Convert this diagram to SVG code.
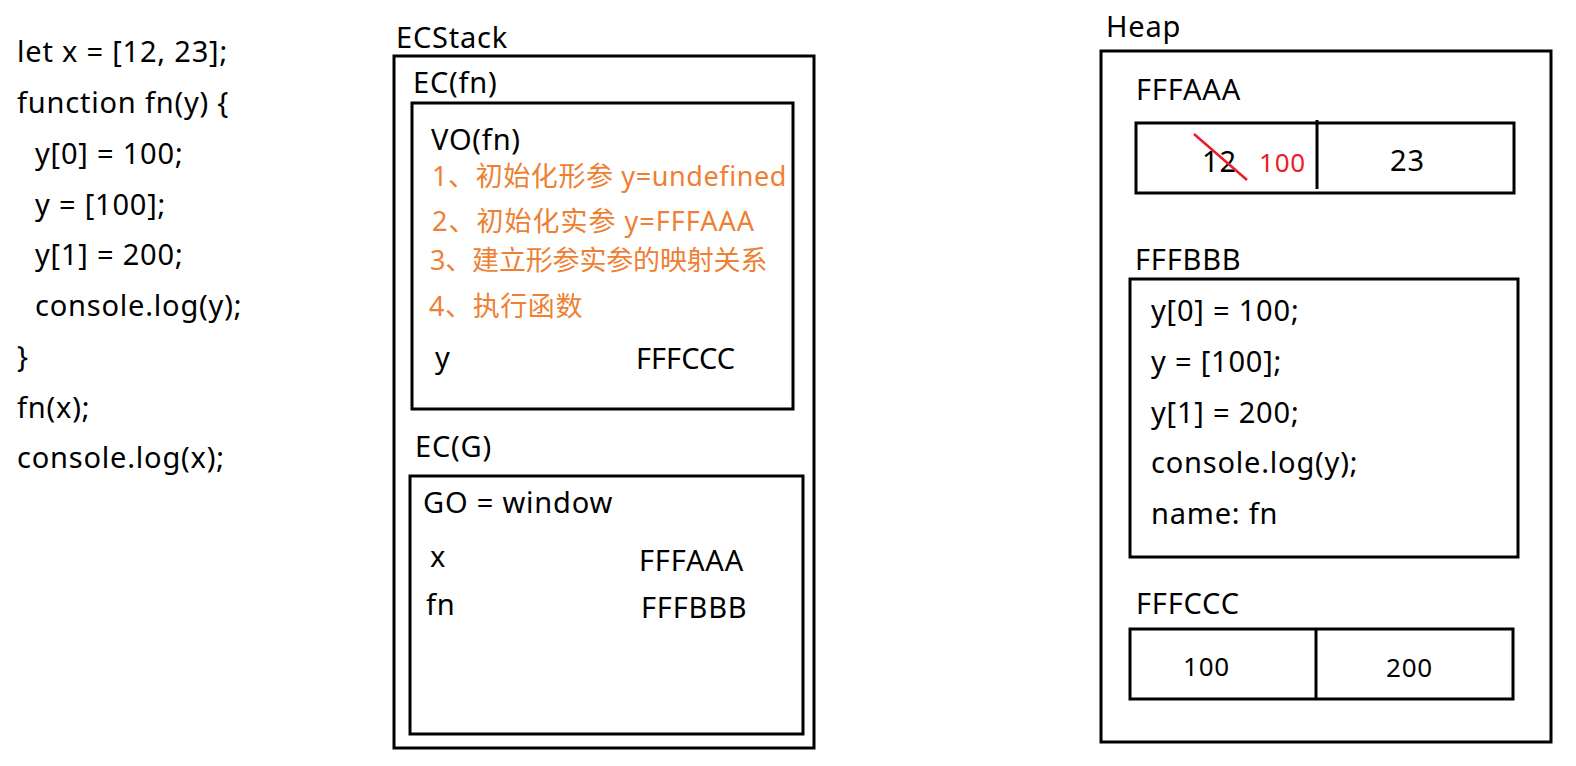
<svg xmlns="http://www.w3.org/2000/svg" width="1576" height="766" viewBox="0 0 1576 766">
<style>
text{font-family:"Noto Sans","Noto Sans CJK SC",sans-serif;font-size:29px;fill:#000;letter-spacing:0.8px}
.box{fill:none;stroke:#000;stroke-width:3}
.cn{font-size:27px;fill:#EE7F33;letter-spacing:0.6px}
.sm{font-size:26px}
.red{fill:#EE1C25;font-size:26px}
</style>
<rect width="1576" height="766" fill="#fff"/>
<g id="code">
<text x="17" y="62">let x = [12, 23];</text>
<text x="17" y="113">function fn(y) {</text>
<text x="35" y="164">y[0] = 100;</text>
<text x="35" y="215">y = [100];</text>
<text x="35" y="265">y[1] = 200;</text>
<text x="35" y="316">console.log(y);</text>
<text x="17" y="367">}</text>
<text x="17" y="418">fn(x);</text>
<text x="17" y="468">console.log(x);</text>
</g>
<g id="ecstack">
<text x="396" y="48">ECStack</text>
<rect class="box" x="394" y="56" width="420" height="692"/>
</g>
<g id="ec-fn">
<text x="413" y="93">EC(fn)</text>
<rect class="box" x="412" y="103" width="381" height="306"/>
<text x="431" y="150">VO(fn)</text>
<text class="cn" x="432" y="186">1、初始化形参 y=undefined</text>
<text class="cn" x="432" y="231" style="letter-spacing:1px">2、初始化实参 y=FFFAAA</text>
<text class="cn" x="430" y="270" textLength="338" lengthAdjust="spacing">3、建立形参实参的映射关系</text>
<text class="cn" x="429" y="316">4、执行函数</text>
<text x="435" y="368">y</text>
<text x="636" y="369" style="letter-spacing:0">FFFCCC</text>
</g>
<g id="ec-g">
<text x="415" y="457">EC(G)</text>
<rect class="box" x="410" y="476" width="393" height="258"/>
<text x="423" y="513">GO = window</text>
<text x="430" y="567">x</text>
<text x="639" y="571">FFFAAA</text>
<text x="426" y="615">fn</text>
<text x="641" y="618">FFFBBB</text>
</g>
<g id="heap">
<text x="1106" y="37">Heap</text>
<rect class="box" x="1101" y="51" width="450" height="691"/>
</g>
<g id="fffaaa">
<text x="1136" y="100">FFFAAA</text>
<rect class="box" x="1136" y="123" width="378" height="70"/>
<line x1="1317" y1="120" x2="1317" y2="189" stroke="#000" stroke-width="3"/>
<text x="1202" y="172">12</text>
<line x1="1194" y1="134" x2="1247" y2="180" stroke="#EE1C25" stroke-width="2.5"/>
<text class="red" x="1259" y="172">100</text>
<text x="1390" y="171">23</text>
</g>
<g id="fffbbb">
<text x="1135" y="270">FFFBBB</text>
<rect class="box" x="1130" y="279" width="388" height="278"/>
<text x="1151" y="321">y[0] = 100;</text>
<text x="1151" y="372">y = [100];</text>
<text x="1151" y="423">y[1] = 200;</text>
<text x="1151" y="473">console.log(y);</text>
<text x="1151" y="524">name: fn</text>
</g>
<g id="fffccc">
<text x="1136" y="614">FFFCCC</text>
<rect class="box" x="1130" y="629" width="383" height="70"/>
<line x1="1316" y1="629" x2="1316" y2="699" stroke="#000" stroke-width="3"/>
<text class="sm" x="1183" y="676">100</text>
<text class="sm" x="1386" y="677">200</text>
</g>
</svg>
